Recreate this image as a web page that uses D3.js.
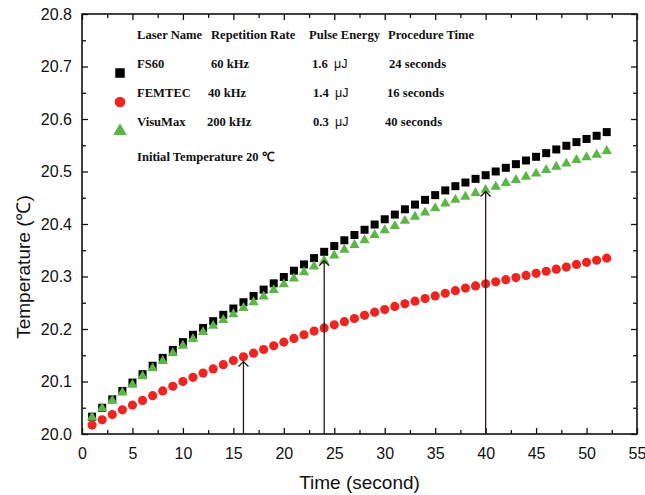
<!DOCTYPE html>
<html>
<head>
<meta charset="utf-8">
<script src="https://cdn.jsdelivr.net/npm/d3@7"></script>
<style>
  body { margin: 0; background: #fff; }
  .tick text { font-family: "Liberation Sans", Arial, sans-serif; }
  .legend text { font-family: "Liberation Serif", "Times New Roman", serif; font-weight: bold; font-size: 12.6px; fill: #111; }
</style>
</head>
<body>
<div id="chart"></div>
<script>
// time points (s)
var times = d3.range(1, 53);

// temperatures
var fs60 = [20.033, 20.050, 20.066, 20.082, 20.098, 20.114, 20.130, 20.145, 20.160, 20.175,
    20.189, 20.202, 20.215, 20.227, 20.239, 20.251, 20.263, 20.275, 20.287, 20.299,
    20.311, 20.323, 20.335, 20.347, 20.358, 20.369, 20.379, 20.389, 20.399, 20.409,
    20.418, 20.428, 20.437, 20.446, 20.455, 20.464, 20.472, 20.479, 20.486, 20.493,
    20.500, 20.507, 20.514, 20.521, 20.528, 20.535, 20.542, 20.549, 20.556, 20.562,
    20.568, 20.575];
var femtec = [20.017, 20.027, 20.037, 20.046, 20.055, 20.064, 20.073, 20.082, 20.091, 20.100,
    20.108, 20.116, 20.124, 20.132, 20.140, 20.147, 20.154, 20.161, 20.168, 20.175,
    20.182, 20.189, 20.196, 20.202, 20.208, 20.214, 20.220, 20.226, 20.232, 20.237,
    20.243, 20.248, 20.253, 20.258, 20.263, 20.268, 20.273, 20.278, 20.282, 20.286,
    20.290, 20.294, 20.298, 20.302, 20.306, 20.310, 20.314, 20.318, 20.323, 20.327,
    20.331, 20.335];
var visumax = [20.032, 20.049, 20.064, 20.079, 20.094, 20.110, 20.125, 20.139, 20.154, 20.168,
    20.181, 20.194, 20.206, 20.217, 20.228, 20.240, 20.251, 20.262, 20.274, 20.285,
    20.296, 20.308, 20.319, 20.330, 20.340, 20.351, 20.360, 20.369, 20.379, 20.388,
    20.396, 20.406, 20.414, 20.422, 20.430, 20.439, 20.446, 20.452, 20.459, 20.465,
    20.471, 20.478, 20.484, 20.490, 20.496, 20.503, 20.509, 20.515, 20.522, 20.527,
    20.532, 20.539];

// arrows marking each procedure time
var arrowTimes = [16, 24, 40];
var arrowTemps = [20.138, 20.330, 20.462];

var xTicks = d3.range(0, 56, 5);
var yTicks = [20.0, 20.1, 20.2, 20.3, 20.4, 20.5, 20.6, 20.7, 20.8];

// legend table
var legendHeader = ["Laser Name", "Repetition Rate", "Pulse Energy", "Procedure Time"];
var laserNames = ["FS60", "FEMTEC", "VisuMax"];
var repRates = ["60 kHz", "40 kHz", "200 kHz"];
var pulseEnergies = ["1.6", "1.4", "0.3"];
var procTimes = ["24 seconds", "16 seconds", "40 seconds"];

var svgWidth = 645;
var svgHeight = 495;
var margin = { top: 14, right: 8, bottom: 61, left: 82 };
var width = svgWidth - margin.left - margin.right;
var height = svgHeight - margin.top - margin.bottom;

var svg = d3.select("#chart")
    .append("svg")
    .attr("width", svgWidth)
    .attr("height", svgHeight);

var chartGroup = svg.append("g")
    .attr("transform", `translate(${margin.left}, ${margin.top})`);

var xScale = d3.scaleLinear().domain([0, 55]).range([0, width]);
var yScale = d3.scaleLinear().domain([20.0, 20.8]).range([height, 0]);

var xMinor = d3.range(2.5, 55, 5);
var yMinor = d3.range(20.05, 20.8, 0.1);

// axes with inward ticks
function styleAxis(g) {
    g.select(".domain").remove();
    g.selectAll(".tick line").attr("stroke", "#111").attr("stroke-width", 1.3);
}

chartGroup.append("g")
    .attr("transform", `translate(0, ${height})`)
    .call(d3.axisBottom(xScale).tickValues(xTicks).tickSize(-6).tickPadding(14).tickFormat(d3.format("d")))
    .call(styleAxis)
    .call(g => g.selectAll("text").attr("font-size", 16).attr("fill", "#111"));
chartGroup.append("g")
    .attr("transform", `translate(0, ${height})`)
    .call(d3.axisBottom(xScale).tickValues(xMinor).tickSize(-4).tickFormat(""))
    .call(styleAxis);
chartGroup.append("g")
    .call(d3.axisTop(xScale).tickValues(xTicks).tickSize(-6).tickFormat(""))
    .call(styleAxis);
chartGroup.append("g")
    .call(d3.axisTop(xScale).tickValues(xMinor).tickSize(-4).tickFormat(""))
    .call(styleAxis);

chartGroup.append("g")
    .call(d3.axisLeft(yScale).tickValues(yTicks).tickSize(-6).tickPadding(10).tickFormat(d3.format(".1f")))
    .call(styleAxis)
    .call(g => g.selectAll("text").attr("font-size", 16).attr("fill", "#111"));
chartGroup.append("g")
    .call(d3.axisLeft(yScale).tickValues(yMinor).tickSize(-4).tickFormat(""))
    .call(styleAxis);
chartGroup.append("g")
    .attr("transform", `translate(${width}, 0)`)
    .call(d3.axisRight(yScale).tickValues(yTicks).tickSize(-6).tickFormat(""))
    .call(styleAxis);
chartGroup.append("g")
    .attr("transform", `translate(${width}, 0)`)
    .call(d3.axisRight(yScale).tickValues(yMinor).tickSize(-4).tickFormat(""))
    .call(styleAxis);

// frame
chartGroup.append("rect")
    .attr("width", width)
    .attr("height", height)
    .attr("fill", "none")
    .attr("stroke", "#111")
    .attr("stroke-width", 1.6);

// series
var series = [
    { name: "FS60", values: fs60, color: "#000000", shape: d3.symbolSquare, size: 64 },
    { name: "FEMTEC", values: femtec, color: "#ee2420", shape: d3.symbolCircle, size: 66 },
    { name: "VisuMax", values: visumax, color: "#5bb646", shape: d3.symbolTriangle, size: 46 }
];

series.forEach(function(s) {
    chartGroup.append("g")
        .selectAll("path")
        .data(times)
        .enter()
        .append("path")
        .attr("transform", (d, i) => `translate(${xScale(d)}, ${yScale(s.values[i])})`)
        .attr("d", d3.symbol().type(s.shape).size(s.size))
        .attr("fill", s.color);
});

// arrows
var arrows = chartGroup.append("g")
    .attr("stroke", "#2a1a14")
    .attr("stroke-width", 1.3)
    .attr("fill", "none");
arrowTimes.forEach(function(t, i) {
    var x = xScale(t);
    var y = yScale(arrowTemps[i]);
    arrows.append("line")
        .attr("x1", x).attr("x2", x)
        .attr("y1", height).attr("y2", y);
    arrows.append("path")
        .attr("d", `M${x - 5},${y + 5}L${x},${y}L${x + 5},${y + 5}`);
});

// legend
var legend = svg.append("g").attr("class", "legend");
var colX = [137, 211, 309, 388];
legendHeader.forEach(function(h, i) {
    legend.append("text").attr("x", colX[i]).attr("y", 39).text(h);
});
var rowY = [68, 97, 126];
var rowX = [[137, 211, 312, 389], [137, 208, 313, 387], [137, 207, 313, 385]];
series.forEach(function(s, i) {
    legend.append("path")
        .attr("transform", `translate(120, ${rowY[i] + 5})`)
        .attr("d", d3.symbol().type(s.shape).size(i === 2 ? 80 : 90))
        .attr("fill", s.color);
    legend.append("text").attr("x", rowX[i][0]).attr("y", rowY[i]).text(laserNames[i]);
    legend.append("text").attr("x", rowX[i][1]).attr("y", rowY[i]).text(repRates[i]);
    var pe = legend.append("text").attr("x", rowX[i][2]).attr("y", rowY[i]);
    pe.append("tspan").text(pulseEnergies[i] + " ");
    pe.append("tspan")
        .attr("dx", 3)
        .attr("font-family", "'Liberation Sans', Arial, sans-serif")
        .attr("font-weight", "normal")
        .text("μJ");
    legend.append("text").attr("x", rowX[i][3]).attr("y", rowY[i]).text(procTimes[i]);
});
legend.append("text").attr("x", 137).attr("y", 161).text("Initial Temperature 20 ℃");

// axis titles
svg.append("text")
    .attr("x", margin.left + width / 2)
    .attr("y", 489)
    .attr("text-anchor", "middle")
    .attr("font-family", "'Liberation Sans', Arial, sans-serif")
    .attr("font-size", 19)
    .attr("fill", "#111")
    .text("Time (second)");

svg.append("text")
    .attr("transform", `translate(30, 267) rotate(-90)`)
    .attr("text-anchor", "middle")
    .attr("font-family", "'Liberation Sans', Arial, sans-serif")
    .attr("font-size", 19)
    .attr("fill", "#111")
    .text("Temperature (℃)");
</script>
</body>
</html>
